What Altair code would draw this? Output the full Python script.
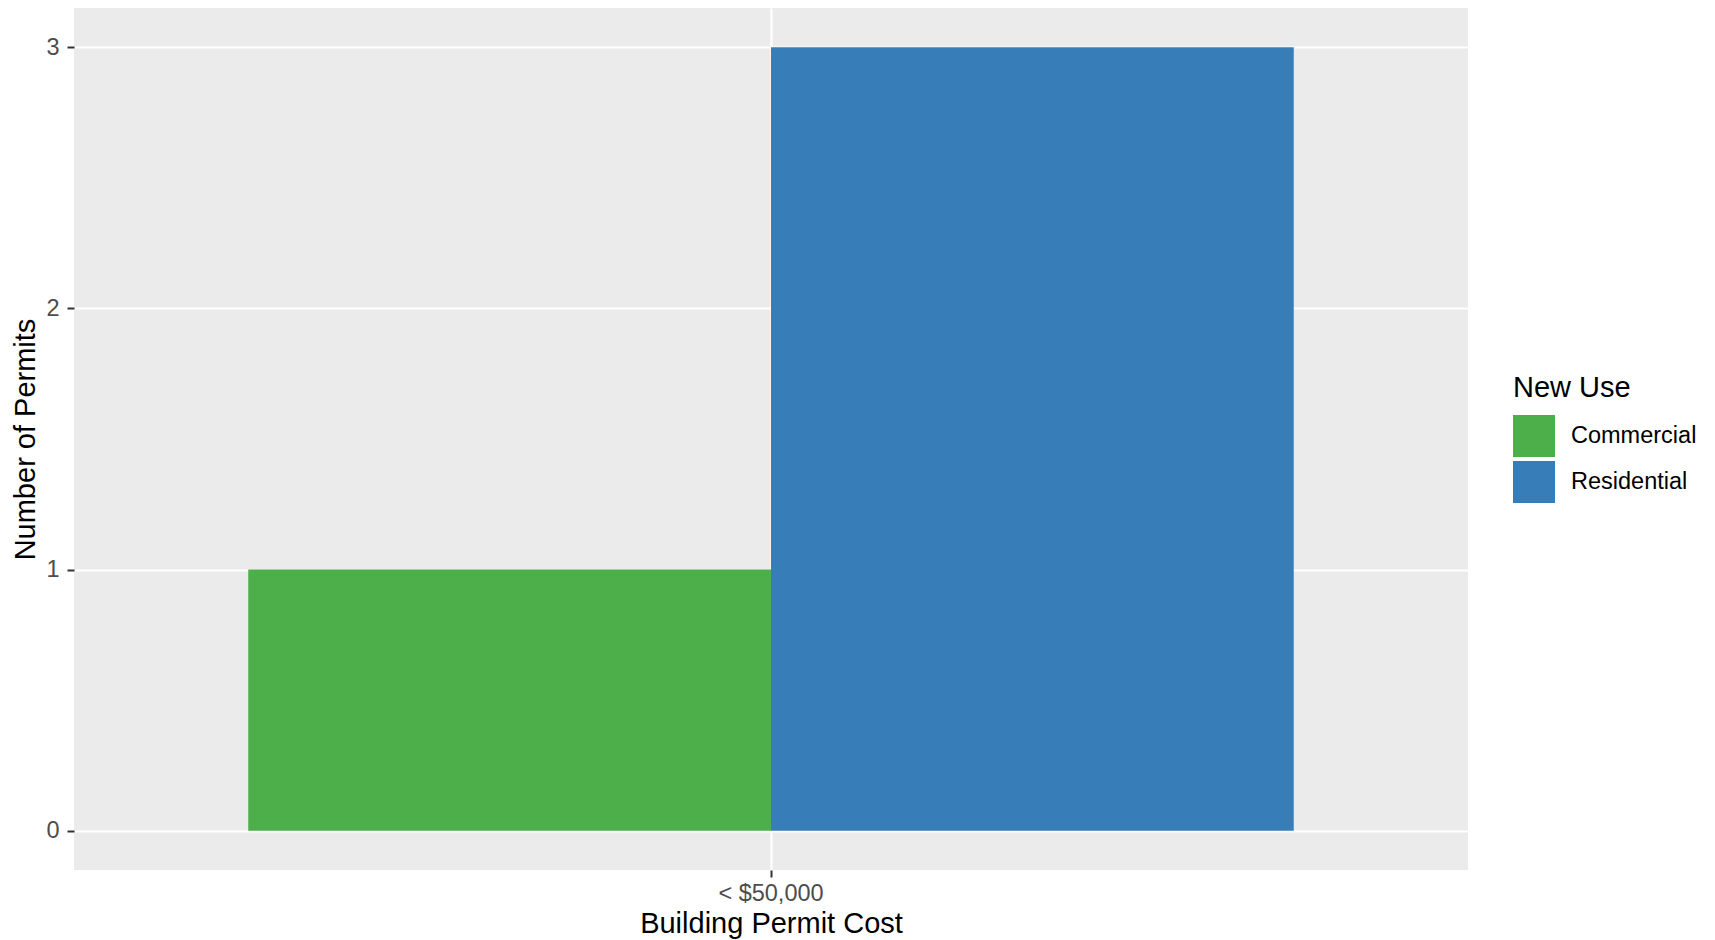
import altair as alt
import pandas as pd

cost_bins = ["< $50,000", "< $50,000"]
new_use = ["Commercial", "Residential"]
permits = [1, 3]
colors = ["#4DAF4A", "#377EB8"]

df = pd.DataFrame({"cost": cost_bins, "use": new_use, "n": permits})

FONT = "Liberation Sans"

bars = alt.Chart(df).mark_bar(opacity=1).encode(
    x=alt.X(
        "cost:N",
        title="Building Permit Cost",
        scale=alt.Scale(paddingInner=0, paddingOuter=1 / 6),
        axis=alt.Axis(labelAngle=0, bandPosition=0.5, grid=True),
    ),
    xOffset=alt.XOffset("use:N", scale=alt.Scale(paddingInner=0, paddingOuter=0)),
    y=alt.Y(
        "n:Q",
        title="Number of Permits",
        stack=False,
        scale=alt.Scale(domain=[-0.15, 3.15], nice=False, zero=False),
        axis=alt.Axis(
            values=[0, 0.5, 1, 1.5, 2, 2.5, 3],
            format="d",
            labelExpr="datum.value % 1 ? '' : datum.label",
            gridWidth={"expr": "datum.value % 1 ? 1.1 : 2.2"},
            tickOpacity={"expr": "datum.value % 1 ? 0 : 1"},
        ),
    ),
    y2=alt.datum(0),
    color=alt.Color(
        "use:N",
        title="New Use",
        scale=alt.Scale(domain=new_use, range=colors),
        legend=alt.Legend(
            orient="none",
            legendX=1439,
            legendY=366,
            symbolType="square",
            symbolSize=1764,
            symbolStrokeWidth=0,
            symbolOpacity=1,
            rowPadding=4,
            labelOffset=16,
            titlePadding=12,
        ),
    ),
).properties(width=1394, height=862)

chart = bars.properties(
    autosize=alt.AutoSizeParams(type="none"),
    padding={"left": 66, "top": 0, "right": 239, "bottom": 70},
).configure(
    background="white",
).configure_view(
    fill="#EBEBEB", stroke=None
).configure_axis(
    domain=False,
    gridColor="white",
    gridWidth=2.2,
    tickColor="#333333",
    tickSize=7,
    tickWidth=2,
    labelColor="#4D4D4D",
    labelFont=FONT,
    labelFontSize=23.5,
    titleFont=FONT,
    titleFontSize=29,
    titleFontWeight="normal",
    titleColor="black",
).configure_axisX(
    labelPadding=4,
    titlePadding=5,
).configure_axisY(
    labelPadding=8,
    titlePadding=5,
).configure_legend(
    titleFont=FONT,
    titleFontSize=29,
    titleFontWeight="normal",
    titleColor="black",
    labelFont=FONT,
    labelFontSize=23.5,
    labelColor="black",
)

chart.save("out.html", embed_options={"renderer": "svg", "actions": False})
